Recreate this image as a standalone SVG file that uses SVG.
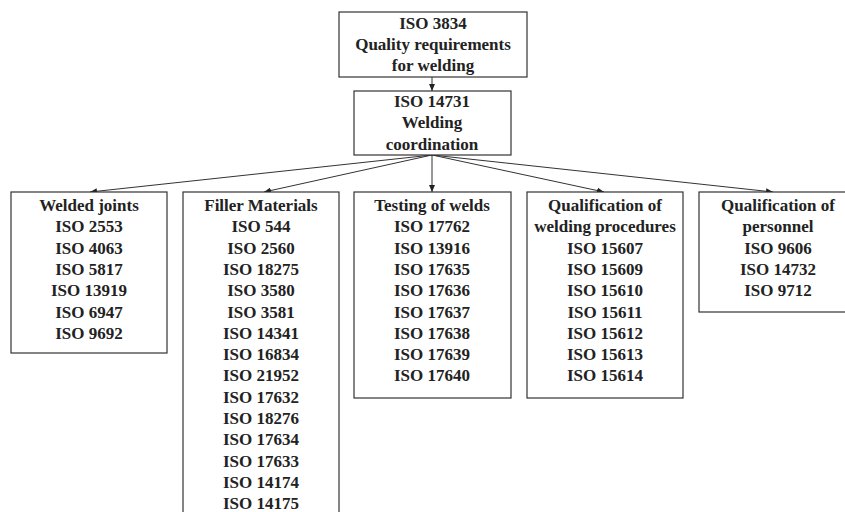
<svg xmlns="http://www.w3.org/2000/svg" width="845" height="512" viewBox="0 0 845 512">
<defs>
<marker id="ah" markerUnits="userSpaceOnUse" markerWidth="8" markerHeight="6" refX="7" refY="3" orient="auto">
<path d="M0,0 L7,3 L0,6 z" fill="#222"/>
</marker>
</defs>
<rect width="845" height="512" fill="#fff"/>
<g id="connectors" stroke="#333" stroke-width="1" fill="none" marker-end="url(#ah)">
<line x1="432" y1="77" x2="432" y2="91"/>
<line x1="432" y1="155" x2="90" y2="192"/>
<line x1="432" y1="155" x2="264" y2="192"/>
<line x1="432" y1="155" x2="432" y2="192"/>
<line x1="432" y1="155" x2="604" y2="192"/>
<line x1="432" y1="155" x2="773" y2="192"/>
</g>
<g id="boxes" fill="#fff" stroke="#333" stroke-width="1.2">
<rect x="339" y="12" width="188" height="65"/>
<rect x="354" y="91" width="157" height="64"/>
<rect x="11" y="192" width="156" height="161"/>
<rect x="183" y="192" width="156" height="340"/>
<rect x="354" y="192" width="157" height="206"/>
<rect x="527" y="192" width="156" height="206"/>
<rect x="699" y="192" width="158" height="120"/>
</g>
<g id="iso3834" text-anchor="middle" fill="#222" style="font-family:'Liberation Serif',serif;font-weight:bold;font-size:17px">
<text x="433" y="28.5">ISO 3834</text>
<text x="433" y="49.8">Quality requirements</text>
<text x="433" y="71.1">for welding</text>
</g>
<g id="iso14731" text-anchor="middle" fill="#222" style="font-family:'Liberation Serif',serif;font-weight:bold;font-size:17px">
<text x="432" y="107">ISO 14731</text>
<text x="432" y="128.3">Welding</text>
<text x="432" y="149.6">coordination</text>
</g>
<g id="welded-joints" text-anchor="middle" fill="#222" style="font-family:'Liberation Serif',serif;font-weight:bold;font-size:17px">
<text x="89" y="211">Welded joints</text>
<text x="89" y="232.3">ISO 2553</text>
<text x="89" y="253.6">ISO 4063</text>
<text x="89" y="274.9">ISO 5817</text>
<text x="89" y="296.2">ISO 13919</text>
<text x="89" y="317.5">ISO 6947</text>
<text x="89" y="338.8">ISO 9692</text>
</g>
<g id="filler-materials" text-anchor="middle" fill="#222" style="font-family:'Liberation Serif',serif;font-weight:bold;font-size:17px">
<text x="261" y="211">Filler Materials</text>
<text x="261" y="232.3">ISO 544</text>
<text x="261" y="253.6">ISO 2560</text>
<text x="261" y="274.9">ISO 18275</text>
<text x="261" y="296.2">ISO 3580</text>
<text x="261" y="317.5">ISO 3581</text>
<text x="261" y="338.8">ISO 14341</text>
<text x="261" y="360.1">ISO 16834</text>
<text x="261" y="381.4">ISO 21952</text>
<text x="261" y="402.7">ISO 17632</text>
<text x="261" y="424">ISO 18276</text>
<text x="261" y="445.3">ISO 17634</text>
<text x="261" y="466.6">ISO 17633</text>
<text x="261" y="487.9">ISO 14174</text>
<text x="261" y="509.2">ISO 14175</text>
</g>
<g id="testing-of-welds" text-anchor="middle" fill="#222" style="font-family:'Liberation Serif',serif;font-weight:bold;font-size:17px">
<text x="432" y="211">Testing of welds</text>
<text x="432" y="232.3">ISO 17762</text>
<text x="432" y="253.6">ISO 13916</text>
<text x="432" y="274.9">ISO 17635</text>
<text x="432" y="296.2">ISO 17636</text>
<text x="432" y="317.5">ISO 17637</text>
<text x="432" y="338.8">ISO 17638</text>
<text x="432" y="360.1">ISO 17639</text>
<text x="432" y="381.4">ISO 17640</text>
</g>
<g id="qualification-procedures" text-anchor="middle" fill="#222" style="font-family:'Liberation Serif',serif;font-weight:bold;font-size:17px">
<text x="605" y="211">Qualification of</text>
<text x="605" y="232.3">welding procedures</text>
<text x="605" y="253.6">ISO 15607</text>
<text x="605" y="274.9">ISO 15609</text>
<text x="605" y="296.2">ISO 15610</text>
<text x="605" y="317.5">ISO 15611</text>
<text x="605" y="338.8">ISO 15612</text>
<text x="605" y="360.1">ISO 15613</text>
<text x="605" y="381.4">ISO 15614</text>
</g>
<g id="qualification-personnel" text-anchor="middle" fill="#222" style="font-family:'Liberation Serif',serif;font-weight:bold;font-size:17px">
<text x="778" y="211">Qualification of</text>
<text x="778" y="232.3">personnel</text>
<text x="778" y="253.6">ISO 9606</text>
<text x="778" y="274.9">ISO 14732</text>
<text x="778" y="296.2">ISO 9712</text>
</g>
</svg>
